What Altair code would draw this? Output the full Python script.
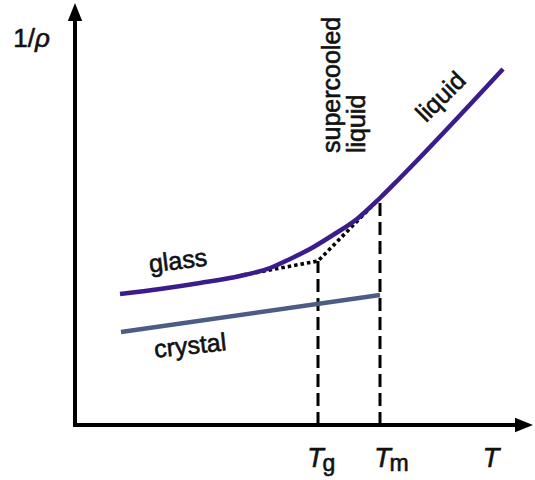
import altair as alt
import pandas as pd

# ---- data (arbitrary units: T along x, specific volume 1/rho along y) ----
curve_T = [4.5, 8.5, 12.5, 16.5, 19.5, 21.5, 23.5, 25.8, 28.2, 30.5, 32.5, 42.8]
curve_V = [13.1, 13.6, 14.2, 14.9, 15.7, 16.6, 17.6, 19.0, 20.6, 22.7, 24.7, 35.6]

crystal_T = [4.6, 30.5]
crystal_V = [9.3, 13.0]

dotted_T = [16.8, 24.3, 30.5]
dotted_V = [15.0, 16.4, 22.7]

Tg, Tg_top = 24.3, 16.4
Tm, Tm_top = 30.5, 22.7

axis_x_end, axis_y_end = 44.5, 40.5
arrow_x_pos = [44.9, 0.0]
arrow_y_pos = [0.0, 41.3]

FONT = "Liberation Sans"
PURPLE = "#3b1c8c"
SLATE = "#4d5c83"
INK = "#111111"

xs = alt.Scale(domain=[-7.5, 46], nice=False, zero=False)
ys = alt.Scale(domain=[-5.5, 42.5], nice=False, zero=False)
X = lambda f="T": alt.X(f"{f}:Q", scale=xs, axis=None)
Y = lambda f="V": alt.Y(f"{f}:Q", scale=ys, axis=None)

# axes lines
axes_df = pd.DataFrame({"T": [0, 0], "V": [0, 0], "T2": [axis_x_end, 0], "V2": [0, axis_y_end]})
axes = alt.Chart(axes_df).mark_rule(color="black", strokeWidth=4, strokeCap="square").encode(
    x=X(), y=Y(), x2="T2:Q", y2="V2:Q")

arrow_r = alt.Chart(pd.DataFrame({"T": [arrow_x_pos[0]], "V": [arrow_y_pos[0]]})).mark_point(
    shape="M -1 -0.8 L 1 0 L -1 0.8 Z", filled=True, size=324, color="black", opacity=1, strokeWidth=0
).encode(x=X(), y=Y())
arrow_u = alt.Chart(pd.DataFrame({"T": [arrow_x_pos[1]], "V": [arrow_y_pos[1]]})).mark_point(
    shape="M -0.8 1 L 0 -1 L 0.8 1 Z", filled=True, size=324, color="black", opacity=1, strokeWidth=0
).encode(x=X(), y=Y())

# dashed verticals
vert_df = pd.DataFrame({"T": [Tg, Tm], "V": [0, 0], "V2": [Tg_top, Tm_top]})
verts = alt.Chart(vert_df).mark_rule(color="black", strokeWidth=3, strokeDash=[13, 6]).encode(
    x=X(), y=Y(), y2="V2:Q")

dotted = alt.Chart(pd.DataFrame({"T": dotted_T, "V": dotted_V})).mark_line(
    color="black", strokeWidth=3.6, strokeDash=[3.5, 3]).encode(x=X(), y=Y())

crystal = alt.Chart(pd.DataFrame({"T": crystal_T, "V": crystal_V})).mark_line(
    color=SLATE, strokeWidth=4.5).encode(x=X(), y=Y())

curve = alt.Chart(pd.DataFrame({"T": curve_T, "V": curve_V})).mark_line(
    color=PURPLE, strokeWidth=4.5, interpolate="monotone").encode(x=X(), y=Y())


def label(texts, Ts, Vs, **kw):
    df = pd.DataFrame({"T": Ts, "V": Vs, "label": texts})
    params = dict(font=FONT, color=INK, fontSize=22, stroke=INK, strokeWidth=0.6)
    params.update(kw)
    return alt.Chart(df).mark_text(**params).encode(x=X(), y=Y(), text="label:N")


texts = [
    label(["1/"], [-4.0], [37.8], align="right", baseline="alphabetic", fontSize=26),
    label(["ρ"], [-4.0], [37.8], align="left", baseline="alphabetic", fontSize=26, fontStyle="italic"),
    label(["glass"], [10.4], [15.6], align="center", baseline="alphabetic", angle=353, fontSize=25),
    label(["crystal"], [11.6], [7.1], align="center", baseline="alphabetic", angle=354, fontSize=25),
    label(["supercooled"], [26.5], [27.2], align="left", baseline="alphabetic", angle=270, fontSize=25),
    label(["liquid"], [29.0], [27.2], align="left", baseline="alphabetic", angle=270, fontSize=25),
    label(["liquid"], [36.6], [32.8], align="center", baseline="middle", angle=315, fontSize=25),
    label(["T", "T", "T"], [24.05, 30.75, 41.6], [-4.2, -4.2, -4.2], align="center",
          baseline="alphabetic", fontSize=27, fontStyle="italic"),
    label(["g", "m"], [24.75, 31.45], [-4.6, -4.6], align="left", baseline="alphabetic", fontSize=23),
]

chart = alt.layer(axes, arrow_r, arrow_u, verts, dotted, crystal, curve, *texts).properties(
    width=535, height=480, autosize="none", padding=0
).configure_view(stroke=None)

chart.save("out.html", embed_options={"renderer": "svg", "actions": False})
